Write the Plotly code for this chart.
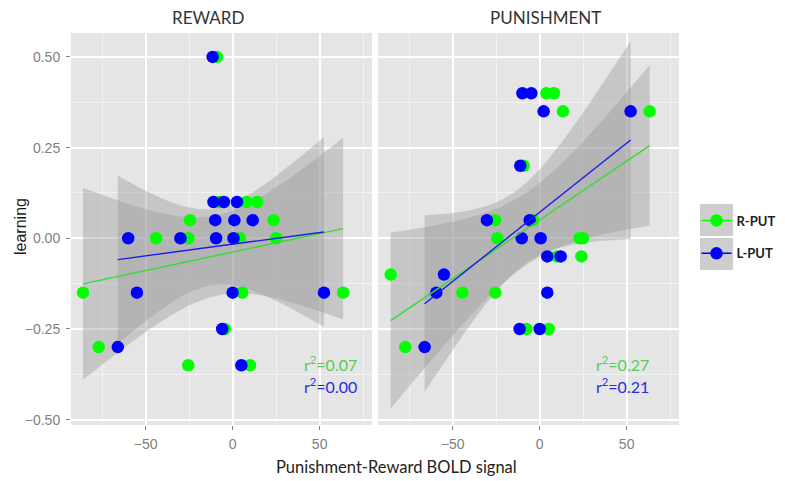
import numpy as np
import plotly.graph_objects as go

# ---------------- data ----------------
panels = ["REWARD", "PUNISHMENT"]
groups = ["R-PUT", "L-PUT"]

reward_r_x = [-9, -7.5, 8, 14, -24.5, 23.5, -44, -25.5, 4, 25, -86, 5.5, 63.5, -4.5, -77, -25.5, 10]
reward_r_y = [0.5, 0.1, 0.1, 0.1, 0.05, 0.05, 0, 0, 0, 0, -0.15, -0.15, -0.15, -0.25, -0.30, -0.35, -0.35]
reward_l_x = [-11.5, -11, -5, 2.5, -10, 1, 11.5, -60, -30, -9.5, 0.5, -55, 0, 52.5, -6, -66, 5]
reward_l_y = [0.5, 0.1, 0.1, 0.1, 0.05, 0.05, 0.05, 0, 0, 0, 0, -0.15, -0.15, -0.15, -0.25, -0.30, -0.35]

punish_r_x = [3.9, 8.2, 13.4, 63.2, -9.2, -25.5, -3.9, -24.3, 23, 24.9, 9.9, 24, -85.6, -44.4, -25.5, -7.6, 5.2, -77.2]
punish_r_y = [0.4, 0.4, 0.35, 0.35, 0.2, 0.05, 0.05, 0, 0, 0, -0.05, -0.05, -0.1, -0.15, -0.15, -0.25, -0.25, -0.30]
punish_l_x = [-9.9, -4.8, 2.3, 52.3, -11.1, -30.3, -5.7, -10.3, 0.6, 4.4, 12.1, -55, -59.4, 4.4, -11.5, 0, -66.1]
punish_l_y = [0.4, 0.4, 0.35, 0.35, 0.2, 0.05, 0.05, 0, 0, -0.05, -0.05, -0.1, -0.15, -0.15, -0.25, -0.25, -0.30]

r2_labels = {"REWARD": ["0.07", "0.00"], "PUNISHMENT": ["0.27", "0.21"]}

x_ticks = [-50, 0, 50]
y_ticks = [-0.50, -0.25, 0.00, 0.25, 0.50]
y_tick_text = ["\u22120.50", "\u22120.25", "0.00", "0.25", "0.50"]

# ---------------- styles ----------------
point_colors = {"R-PUT": "#00FF00", "L-PUT": "#0000FF"}
line_colors = {"R-PUT": "#33DD33", "L-PUT": "#1A1AEE"}
text_colors = {"R-PUT": "#55CC55", "L-PUT": "#2B2BE0"}
band_fill = "rgba(153,153,153,0.4)"
panel_bg = "#E5E5E5"
tick_font = dict(family="Liberation Sans, Arial, sans-serif", size=14, color="#7F7F7F")
label_font = "Lato, Open Sans, sans-serif"

T975 = {15: 2.131, 16: 2.120, 17: 2.110}

data = {
    ("REWARD", "R-PUT"): (reward_r_x, reward_r_y),
    ("REWARD", "L-PUT"): (reward_l_x, reward_l_y),
    ("PUNISHMENT", "R-PUT"): (punish_r_x, punish_r_y),
    ("PUNISHMENT", "L-PUT"): (punish_l_x, punish_l_y),
}
axis_of = {"REWARD": "x", "PUNISHMENT": "x2"}


def lm_band(x, y, n_out=80):
    x = np.asarray(x, float)
    y = np.asarray(y, float)
    n = len(x)
    b, a = np.polyfit(x, y, 1)
    resid = y - (a + b * x)
    s = np.sqrt(np.sum(resid ** 2) / (n - 2))
    xm = x.mean()
    sxx = np.sum((x - xm) ** 2)
    xs = np.linspace(x.min(), x.max(), n_out)
    fit = a + b * xs
    se = s * np.sqrt(1.0 / n + (xs - xm) ** 2 / sxx)
    t = T975.get(n - 2, 2.1)
    return xs, fit, fit - t * se, fit + t * se


fig = go.Figure()

# bands
for p in panels:
    for g in groups:
        xs, fit, lo, hi = lm_band(*data[(p, g)])
        fig.add_trace(go.Scatter(
            x=np.concatenate([xs, xs[::-1]]), y=np.concatenate([hi, lo[::-1]]),
            fill="toself", fillcolor=band_fill, line=dict(width=0),
            mode="lines", hoverinfo="skip", showlegend=False,
            xaxis=axis_of[p], yaxis="y"))

# points
for p in panels:
    for g in groups:
        x, y = data[(p, g)]
        fig.add_trace(go.Scatter(
            x=x, y=y, mode="markers", name=g, legendgroup=g,
            marker=dict(color=point_colors[g], size=12.5, line=dict(width=0)),
            showlegend=False, xaxis=axis_of[p], yaxis="y"))

# fitted lines
for p in panels:
    for g in groups:
        xs, fit, lo, hi = lm_band(*data[(p, g)])
        fig.add_trace(go.Scatter(
            x=xs, y=fit, mode="lines", name=g, legendgroup=g,
            line=dict(color=line_colors[g], width=1.4),
            showlegend=False, hoverinfo="skip",
            xaxis=axis_of[p], yaxis="y"))

# legend entries
for g in groups:
    fig.add_trace(go.Scatter(
        x=[None], y=[None], mode="lines+markers", name=g, legendgroup=g,
        marker=dict(color=point_colors[g], size=12.5),
        line=dict(color=point_colors[g], width=1.5),
        showlegend=True, xaxis="x", yaxis="y"))

# panel backgrounds
shapes = []
for ax in ["x", "x2"]:
    shapes.append(dict(type="rect", xref=f"{ax} domain", yref="y domain",
                       x0=0, x1=1, y0=0, y1=1, fillcolor=panel_bg,
                       line=dict(width=0), layer="below"))

# legend key boxes (paper coords)
W, H, L, T = 785, 481, 71, 33
PW, PH = 785 - 71 - 106, 481 - 33 - 56


def px_x(px):
    return (px - L) / PW


def px_y(py):
    return (T + PH - py) / PH


for (y0, y1) in [(204, 236), (238, 270)]:
    shapes.append(dict(type="rect", xref="paper", yref="paper",
                       x0=px_x(700), x1=px_x(733), y0=px_y(y1), y1=px_y(y0),
                       fillcolor="#CECECE", line=dict(width=0), layer="below"))

annotations = []
strip_pos = {"REWARD": 208.5, "PUNISHMENT": 545}
for p in panels:
    annotations.append(dict(text=p, xref="paper", yref="paper",
                            x=px_x(strip_pos[p]), y=px_y(17.5),
                            showarrow=False, xanchor="center", yanchor="middle",
                            font=dict(family=label_font, size=17, color="#333333")))

r2_x = {"REWARD": 72.6, "PUNISHMENT": 63.8}
r2_y = [-0.345, -0.407]
for p in panels:
    for i, g in enumerate(groups):
        annotations.append(dict(text=f"r<sup>2</sup>=" + r2_labels[p][i],
                                xref=axis_of[p], yref="y", x=r2_x[p], y=r2_y[i],
                                showarrow=False, xanchor="right", yanchor="middle",
                                font=dict(family=label_font, size=16, color=text_colors[g])))

annotations.append(dict(text="Punishment-Reward BOLD signal", xref="paper", yref="paper",
                        x=px_x(396.5), y=px_y(467), showarrow=False,
                        xanchor="center", yanchor="middle",
                        font=dict(family=label_font, size=16.5, color="#222222")))
annotations.append(dict(text="learning", xref="paper", yref="paper",
                        x=px_x(20), y=px_y(227), showarrow=False, textangle=-90,
                        xanchor="center", yanchor="middle",
                        font=dict(family="Liberation Sans, Arial, sans-serif", size=16, color="#1A1A1A")))

xaxis_common = dict(range=[-92.9, 80.1], tickvals=x_ticks, ticks="outside", ticklen=4,
                    tickcolor="#7F7F7F", tickwidth=1, tickfont=tick_font,
                    showgrid=True, gridcolor="#FFFFFF", gridwidth=1.5,
                    minor=dict(dtick=25, tick0=0, showgrid=True, gridcolor="#F2F2F2", gridwidth=0.8, ticks=""),
                    zeroline=False, showline=False, anchor="y", ticklabelstandoff=2)

fig.update_layout(
    width=W, height=H,
    margin=dict(l=L, r=106, t=T, b=56, pad=0, autoexpand=False),
    paper_bgcolor="white", plot_bgcolor="white",
    xaxis=dict(domain=[0, (372 - L) / PW], **xaxis_common),
    xaxis2=dict(domain=[(378 - L) / PW, 1], **xaxis_common),
    yaxis=dict(range=[-0.5148, 0.566], tickvals=y_ticks, ticktext=y_tick_text,
               ticks="outside", ticklen=4, tickcolor="#7F7F7F", tickwidth=1,
               tickfont=tick_font, showgrid=True, gridcolor="#FFFFFF", gridwidth=1.5,
               minor=dict(dtick=0.125, tick0=0, showgrid=True, gridcolor="#F2F2F2", gridwidth=0.8, ticks=""),
               zeroline=False, showline=False, anchor="x", ticklabelstandoff=3),
    showlegend=True,
    legend=dict(x=px_x(696.5), y=px_y(237), xanchor="left", yanchor="middle",
                bgcolor="rgba(0,0,0,0)", borderwidth=0, tracegroupgap=13,
                traceorder="grouped",
                font=dict(family=label_font, size=13, color="#222222", weight="bold")),
    shapes=shapes, annotations=annotations,
)

fig.write_html("out.html", config={"displayModeBar": False},
               post_script="document.body.style.margin='0';document.body.style.padding='0';")
